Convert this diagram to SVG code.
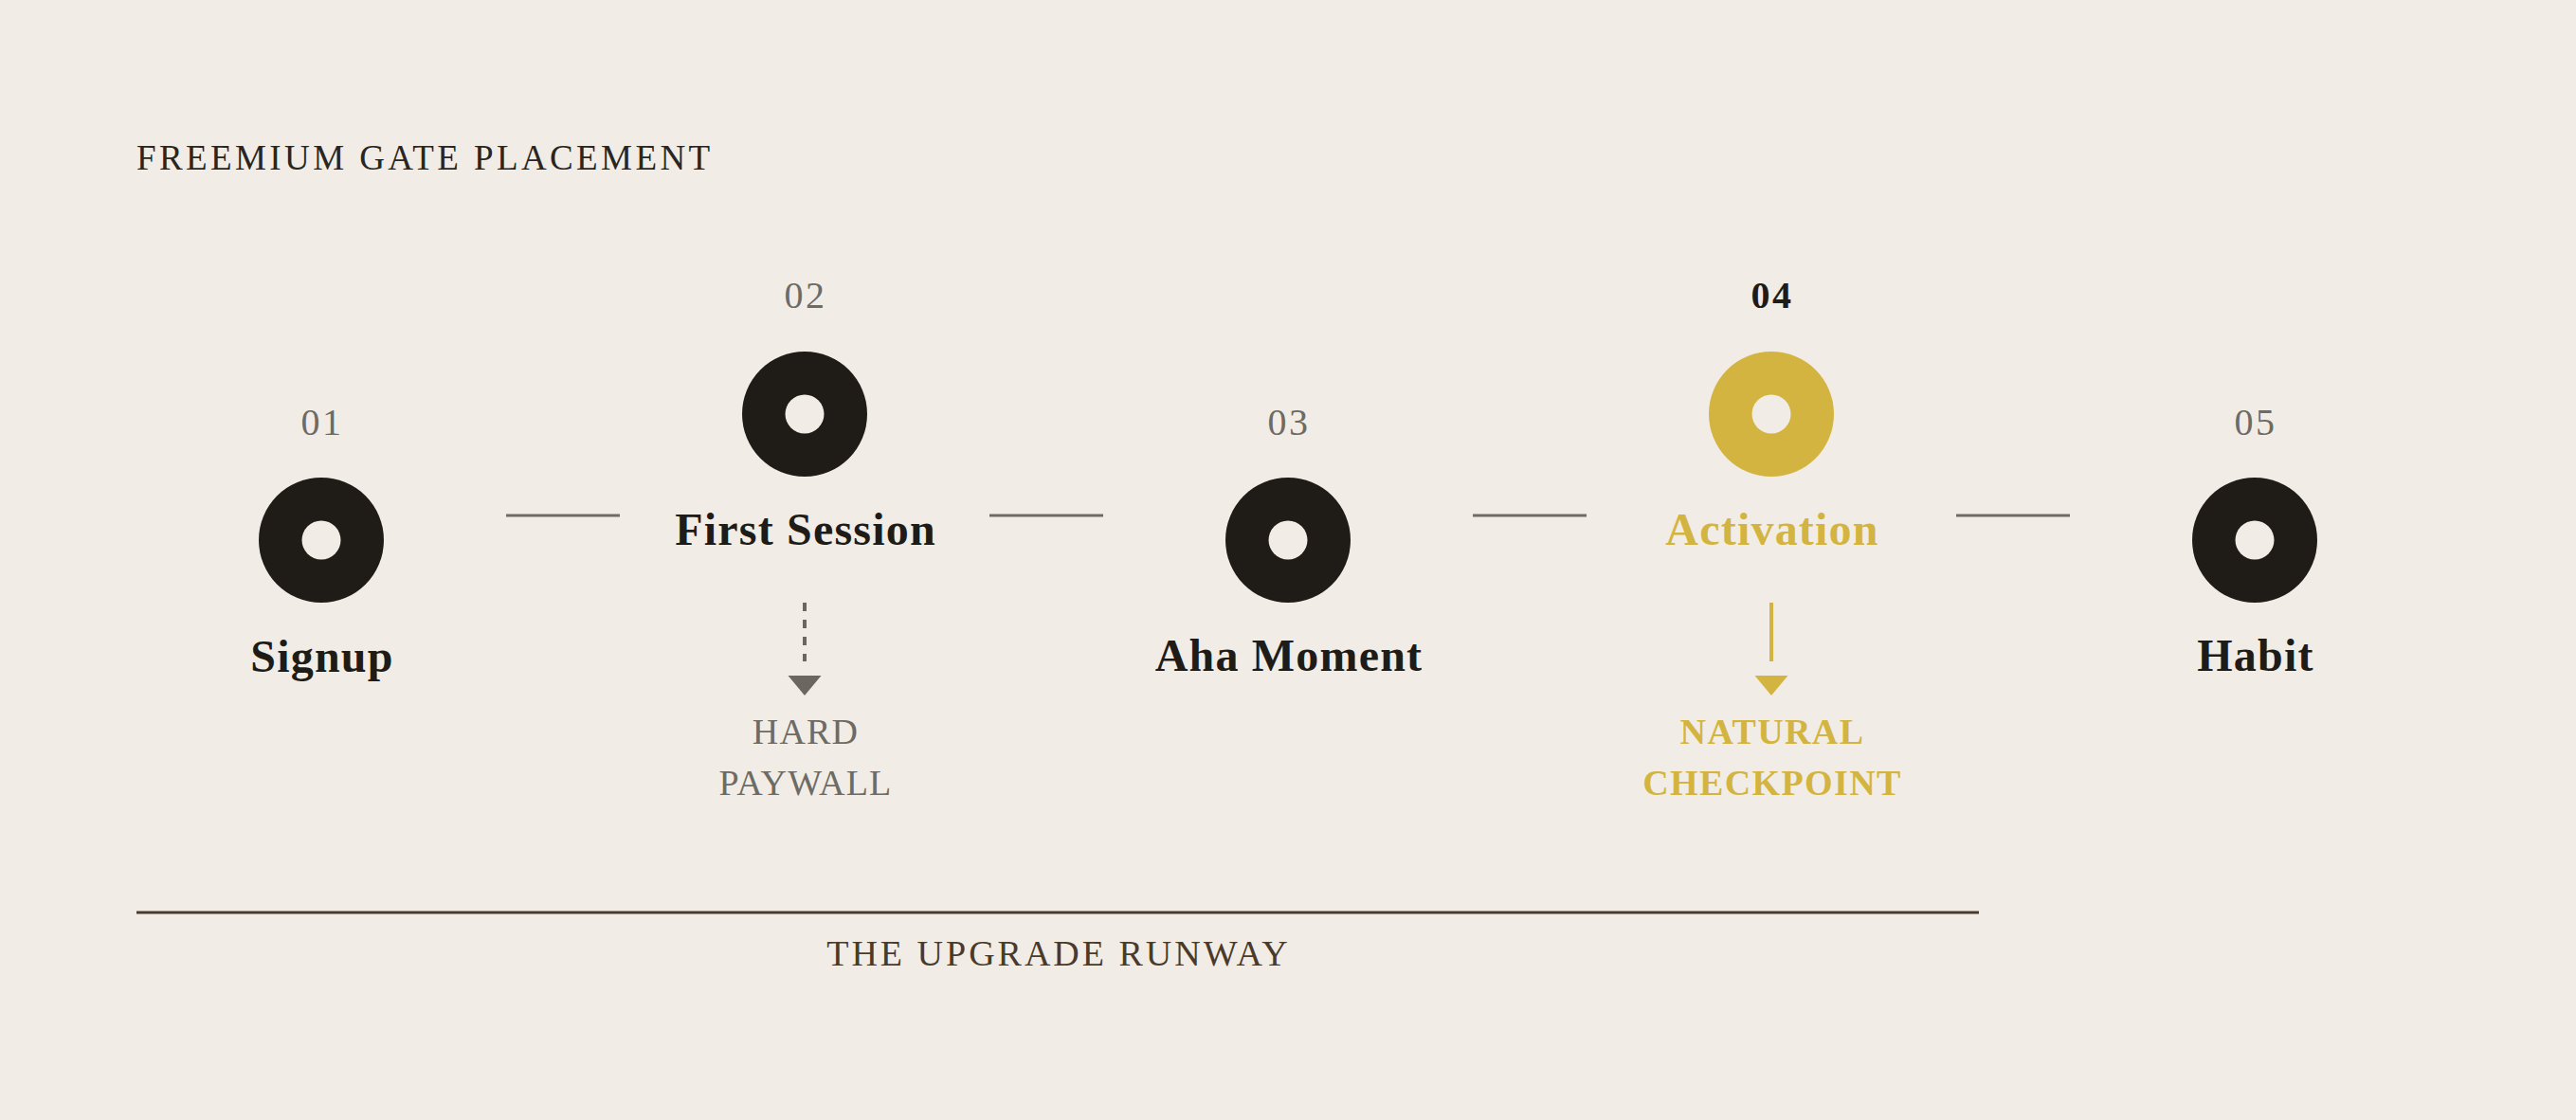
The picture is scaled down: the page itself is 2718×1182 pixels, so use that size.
<svg xmlns="http://www.w3.org/2000/svg" width="2718" height="1182" viewBox="0 0 2718 1182">
  <style>
    .serif { font-family: "Liberation Serif", "DejaVu Serif", serif; }
    .title { font-size: 37px; fill: #2a2520; letter-spacing: 3.4px; }
    .num { font-size: 40px; fill: #6e6a64; letter-spacing: 2.5px; text-anchor: middle; }
    .num-active { font-size: 40px; fill: #1f1c18; font-weight: bold; letter-spacing: 2.5px; text-anchor: middle; }
    .label { font-size: 48px; font-weight: bold; fill: #1f1c18; letter-spacing: 1.2px; text-anchor: middle; }
    .label-active { font-size: 48px; font-weight: bold; fill: #d4b441; letter-spacing: 1.2px; text-anchor: middle; }
    .gate-hard { font-size: 38px; fill: #6e6a64; letter-spacing: 1.2px; text-anchor: middle; }
    .gate-natural { font-size: 38px; font-weight: bold; fill: #d4b441; letter-spacing: 1.4px; text-anchor: middle; }
    .runway { font-size: 38px; fill: #4a3a2a; letter-spacing: 3px; text-anchor: middle; }
    .ring { fill: #1f1c18; }
    .ring-active { fill: #d4b441; }
    .hole { fill: #f1ede6; }
    .link { stroke: #6e6a64; stroke-width: 3; fill: none; }
  </style>
  <defs>
    <marker id="arrow-gray" markerUnits="userSpaceOnUse" viewBox="0 -20 40 40" markerWidth="40" markerHeight="40" refX="0" refY="0" orient="auto">
      <path d="M15,-17.5 L36,0 L15,17.5 Z" fill="#6b6760"/>
    </marker>
    <marker id="arrow-gold" markerUnits="userSpaceOnUse" viewBox="0 -20 40 40" markerWidth="40" markerHeight="40" refX="0" refY="0" orient="auto">
      <path d="M15,-17.5 L36,0 L15,17.5 Z" fill="#d4b441"/>
    </marker>
  </defs>

  <rect x="0" y="0" width="2718" height="1182" fill="#f1ede6"/>

  <text id="title" class="serif title" x="144" y="179">FREEMIUM GATE PLACEMENT</text>

  <g id="connectors">
    <line class="link" x1="534" y1="544" x2="654" y2="544"/>
    <line class="link" x1="1044" y1="544" x2="1164" y2="544"/>
    <line class="link" x1="1554" y1="544" x2="1674" y2="544"/>
    <line class="link" x1="2064" y1="544" x2="2184" y2="544"/>
    <line x1="849" y1="636" x2="849" y2="698" stroke="#6b6760" stroke-width="4" stroke-dasharray="9 9" marker-end="url(#arrow-gray)"/>
    <line x1="1869" y1="636" x2="1869" y2="698" stroke="#d4b441" stroke-width="4" marker-end="url(#arrow-gold)"/>
  </g>

  <g id="node-signup">
    <text class="serif num" x="340" y="459">01</text>
    <circle class="ring" cx="339" cy="570" r="66"/>
    <circle class="hole" cx="339" cy="570" r="20.5"/>
    <text class="serif label" x="340" y="709">Signup</text>
  </g>

  <g id="node-first-session">
    <text class="serif num" x="850" y="325">02</text>
    <circle class="ring" cx="849" cy="437" r="66"/>
    <circle class="hole" cx="849" cy="437" r="20.5"/>
    <text class="serif label" x="850" y="575">First Session</text>
  </g>

  <g id="gate-hard-paywall">
    <text class="serif gate-hard" x="850" y="785">HARD</text>
    <text class="serif gate-hard" x="850" y="839">PAYWALL</text>
  </g>

  <g id="node-aha-moment">
    <text class="serif num" x="1360" y="459">03</text>
    <circle class="ring" cx="1359" cy="570" r="66"/>
    <circle class="hole" cx="1359" cy="570" r="20.5"/>
    <text class="serif label" x="1360" y="708">Aha Moment</text>
  </g>

  <g id="node-activation">
    <text class="serif num-active" x="1870" y="325">04</text>
    <circle class="ring-active" cx="1869" cy="437" r="66"/>
    <circle class="hole" cx="1869" cy="437" r="20.5"/>
    <text class="serif label-active" x="1870" y="575">Activation</text>
  </g>

  <g id="gate-natural-checkpoint">
    <text class="serif gate-natural" x="1870" y="785">NATURAL</text>
    <text class="serif gate-natural" x="1870" y="839">CHECKPOINT</text>
  </g>

  <g id="node-habit">
    <text class="serif num" x="2380" y="459">05</text>
    <circle class="ring" cx="2379" cy="570" r="66"/>
    <circle class="hole" cx="2379" cy="570" r="20.5"/>
    <text class="serif label" x="2380" y="708">Habit</text>
  </g>

  <g id="runway">
    <line x1="144" y1="963" x2="2088" y2="963" stroke="#4a3a2a" stroke-width="3"/>
    <text class="serif runway" x="1117" y="1019">THE UPGRADE RUNWAY</text>
  </g>
</svg>
